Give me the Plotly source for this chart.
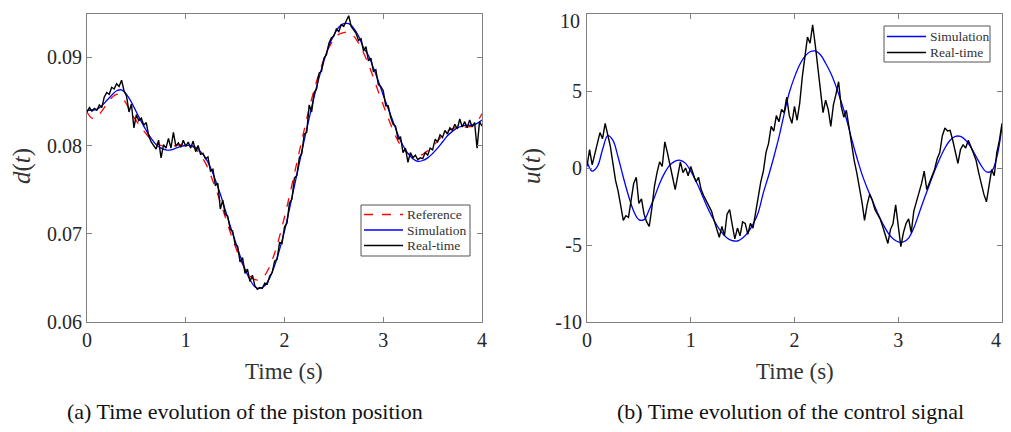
import numpy as np
import plotly.graph_objects as go

# ---- piston position d(t), sampled every 0.05 s (smooth curves) ----
d_reference = [
    0.0838, 0.0831, 0.0832, 0.0839, 0.0847, 0.0854, 0.0858, 0.0855, 0.0847, 0.0836,
    0.0828, 0.0820, 0.0813, 0.0807, 0.0803, 0.0800, 0.0799, 0.0799, 0.0800, 0.0801,
    0.0801, 0.0800, 0.0796, 0.0789, 0.0780, 0.0767, 0.0752, 0.0736, 0.0719, 0.0702,
    0.0686, 0.0672, 0.0660, 0.0652, 0.0648, 0.0648, 0.0653, 0.0663, 0.0678, 0.0697,
    0.0719, 0.0743, 0.0768, 0.0793, 0.0818, 0.0842, 0.0863, 0.0882, 0.0898, 0.0911,
    0.0920, 0.0926, 0.0928, 0.0928, 0.0924, 0.0916, 0.0905, 0.0892, 0.0877, 0.0861,
    0.0846, 0.0831, 0.0817, 0.0805, 0.0796, 0.0791, 0.0788, 0.0788, 0.0790, 0.0794,
    0.0799, 0.0805, 0.0811, 0.0816, 0.0819, 0.0821, 0.0821, 0.0821, 0.0822, 0.0827,
    0.0836,
]
d_simulation = [
    0.0840, 0.0840, 0.0841, 0.0845, 0.0851, 0.0857, 0.0862, 0.0863, 0.0858, 0.0849,
    0.0838, 0.0827, 0.0817, 0.0808, 0.0801, 0.0797, 0.0795, 0.0795, 0.0797, 0.0799,
    0.0800, 0.0800, 0.0798, 0.0793, 0.0786, 0.0775, 0.0761, 0.0745, 0.0727, 0.0709,
    0.0692, 0.0675, 0.0660, 0.0648, 0.0640, 0.0638, 0.0641, 0.0650, 0.0664, 0.0682,
    0.0703, 0.0728, 0.0754, 0.0780, 0.0806, 0.0831, 0.0855, 0.0877, 0.0896, 0.0913,
    0.0925, 0.0934, 0.0938, 0.0938, 0.0933, 0.0924, 0.0911, 0.0902, 0.0888, 0.0873,
    0.0857, 0.0842, 0.0827, 0.0812, 0.0800, 0.0791, 0.0785, 0.0782, 0.0783, 0.0786,
    0.0791, 0.0797, 0.0804, 0.0811, 0.0816, 0.0820, 0.0822, 0.0823, 0.0823, 0.0825,
    0.0829,
]
# ---- piston position, real-time measurement every 0.025 s ----
d_realtime = [
    0.0838, 0.0843, 0.0839, 0.0842, 0.0840, 0.0846, 0.0843, 0.0855, 0.0860, 0.0858,
    0.0866, 0.0864, 0.0870, 0.0867, 0.0874, 0.0862, 0.0856, 0.0838, 0.0847, 0.0820,
    0.0835, 0.0828, 0.0831, 0.0823, 0.0826, 0.0811, 0.0804, 0.0800, 0.0796, 0.0806,
    0.0786, 0.0801, 0.0797, 0.0808, 0.0797, 0.0815, 0.0799, 0.0803, 0.0798, 0.0806,
    0.0799, 0.0804, 0.0797, 0.0805, 0.0793, 0.0800, 0.0790, 0.0791, 0.0785, 0.0787,
    0.0771, 0.0773, 0.0755, 0.0757, 0.0728, 0.0738, 0.0722, 0.0720, 0.0705, 0.0703,
    0.0688, 0.0686, 0.0668, 0.0673, 0.0655, 0.0660, 0.0646, 0.0653, 0.0641, 0.0637,
    0.0639, 0.0638, 0.0644, 0.0643, 0.0652, 0.0656, 0.0669, 0.0671, 0.0690, 0.0689,
    0.0708, 0.0712, 0.0735, 0.0739, 0.0763, 0.0766, 0.0786, 0.0791, 0.0813, 0.0815,
    0.0846, 0.0838, 0.0860, 0.0864, 0.0882, 0.0884, 0.0899, 0.0903, 0.0916, 0.0922,
    0.0924, 0.0932, 0.0929, 0.0937, 0.0935, 0.0941, 0.0947, 0.0935, 0.0931, 0.0927,
    0.0919, 0.0921, 0.0907, 0.0912, 0.0896, 0.0899, 0.0884, 0.0886, 0.0869, 0.0867,
    0.0862, 0.0845, 0.0845, 0.0832, 0.0824, 0.0822, 0.0807, 0.0810, 0.0792, 0.0797,
    0.0781, 0.0792, 0.0786, 0.0789, 0.0784, 0.0786, 0.0785, 0.0792, 0.0789, 0.0797,
    0.0795, 0.0807, 0.0804, 0.0812, 0.0809, 0.0817, 0.0813, 0.0820, 0.0817, 0.0824,
    0.0819, 0.0830, 0.0821, 0.0827, 0.0820, 0.0829, 0.0821, 0.0826, 0.0797, 0.0827,
    0.0822,
]

# ---- control signal u(t) ----
u_simulation = [
    0.4, -0.2, 0.1, 1.2, 2.1, 1.8, 0.7, -0.6, -1.8, -2.8,
    -3.35, -3.35, -2.7, -1.9, -1.0, -0.3, 0.2, 0.45, 0.5, 0.3,
    -0.2, -0.85, -1.6, -2.4, -3.1, -3.7, -4.2, -4.55, -4.72, -4.74,
    -4.55, -4.2, -3.65, -2.9, -1.6, -0.5, 0.7, 2.0, 3.5, 4.9,
    5.9, 6.7, 7.25, 7.55, 7.6, 7.35, 6.8, 6.15, 5.3, 4.3,
    3.2, 1.9, 0.7, -0.4, -1.3, -2.1, -2.9, -3.6, -4.2, -4.6,
    -4.8, -4.8, -4.55, -3.9, -2.95, -2.0, -1.1, -0.2, 0.6, 1.3,
    1.8, 2.05, 2.05, 1.8, 1.35, 0.75, 0.15, -0.25, -0.2, 0.7,
    2.7,
]
u_realtime = [
    0.1, 1.2, 0.2, 1.0, 1.6, 2.3, 1.9, 2.9, 2.2, 1.4,
    0.3, -0.8, -1.5, -2.6, -3.4, -3.1, -3.2, -2.1, -1.0, -0.6,
    -2.3, -2.0, -3.0, -3.5, -3.8, -2.6, -1.2, -0.3, 0.4, 0.1,
    1.7, 1.0, 0.3, -0.6, -1.4, -0.5, 0.4, -0.3, 0.0, -0.5,
    0.1, -0.4, -0.9, -0.6, -1.4, -1.8, -2.1, -2.5, -2.8, -3.4,
    -3.9, -4.5, -3.8, -4.4, -3.0, -2.7, -3.7, -4.6, -3.9, -4.4,
    -3.5, -3.6, -4.3, -3.6, -3.9, -3.0, -1.9, -0.9, -0.2, 1.0,
    1.6, 2.7, 2.4, 3.4, 3.0, 3.8, 3.6, 4.6, 3.4, 2.9,
    4.0, 3.1, 4.2, 5.9, 7.4, 8.5, 8.1, 9.3, 8.0, 6.5,
    4.7, 3.6, 4.4, 3.8, 2.7, 4.1, 4.8, 5.6, 4.0, 3.3,
    3.75, 2.6, 1.5, 0.5, -0.3, -1.2, -2.2, -3.4, -2.4, -1.7,
    -2.1, -2.7, -3.0, -3.3, -3.8, -4.4, -4.9, -4.0, -3.6, -2.4,
    -3.6, -5.1, -4.2, -3.6, -3.3, -4.2, -2.8, -2.1, -1.6, -1.0,
    -0.2, -1.4, -1.0, -0.6, -0.1, 0.6, 1.0, 2.1, 2.6, 2.4,
    2.45, 1.8, 1.0, 0.3, 1.2, 1.5, 1.3, 1.8, 1.4, 1.0,
    0.5, -0.3, -1.1, -1.7, -2.2, -1.0, -0.1, -0.5, 1.0, 1.8,
    2.9,
]

t_smooth = np.linspace(0, 4, len(d_simulation))
t_rt = np.linspace(0, 4, len(d_realtime))
tu_smooth = np.linspace(0, 4, len(u_simulation))
tu_rt = np.linspace(0, 4, len(u_realtime))

# the page body has an 8 px margin, so the figure is a bit smaller and
# positions below are given in window pixels, then shifted
OFF = 8
W, H = 1011 - 2 * OFF, 432 - 2 * OFF
SERIF = "Liberation Serif, Times New Roman, serif"
AX = "#808080"


def px(x):
    return (x - OFF) / W


def py(y):
    return 1 - (y - OFF) / H


fig = go.Figure()
fig.add_trace(go.Scatter(x=t_smooth, y=d_reference, mode="lines",
                         line=dict(color="#ff0000", width=1.3, dash="dash", shape="spline"),
                         xaxis="x", yaxis="y"))
fig.add_trace(go.Scatter(x=t_smooth, y=d_simulation, mode="lines",
                         line=dict(color="#0000ff", width=1.3, shape="spline"),
                         xaxis="x", yaxis="y"))
fig.add_trace(go.Scatter(x=t_rt, y=d_realtime, mode="lines",
                         line=dict(color="#000000", width=1.4),
                         xaxis="x", yaxis="y"))
fig.add_trace(go.Scatter(x=tu_smooth, y=u_simulation, mode="lines",
                         line=dict(color="#0000ff", width=1.3, shape="spline"),
                         xaxis="x2", yaxis="y2"))
fig.add_trace(go.Scatter(x=tu_rt, y=u_realtime, mode="lines",
                         line=dict(color="#000000", width=1.4),
                         xaxis="x2", yaxis="y2"))

tick_font = dict(family=SERIF, size=20, color="#262626")
axis_common = dict(showgrid=False, zeroline=False, showline=True, linecolor=AX, linewidth=1,
                   mirror="ticks", ticks="inside", ticklen=5, tickcolor=AX, automargin=False,
                   ticklabeloverflow="allow", tickfont=tick_font)

fig.update_layout(
    width=W, height=H,
    margin=dict(l=0, r=0, t=0, b=0),
    paper_bgcolor="white", plot_bgcolor="white",
    showlegend=False,
    xaxis=dict(domain=[px(87), px(482)], range=[0, 4], tickvals=[0, 1, 2, 3, 4],
               anchor="y", **axis_common),
    yaxis=dict(domain=[py(322), py(14)], range=[0.06, 0.0949],
               tickvals=[0.06, 0.07, 0.08, 0.09], ticktext=["0.06", "0.07", "0.08", "0.09"],
               anchor="x", **axis_common),
    # labels that sit at the page edges are written separately below
    xaxis2=dict(domain=[px(587), px(1002)], range=[0, 4], tickvals=[0, 1, 2, 3, 4],
                ticktext=["0", "1", "2", "3", ""], anchor="y2", **axis_common),
    yaxis2=dict(domain=[py(322), py(14)], range=[-10, 10],
                tickvals=[-10, -5, 0, 5, 10], ticktext=["-10", "-5", "0", "5", ""],
                anchor="x2", **axis_common),
)
fig.add_annotation(text="4", x=px(1003), y=py(340), xref="paper", yref="paper",
                   showarrow=False, font=tick_font, xanchor="right", yanchor="middle")
fig.add_annotation(text="10", x=px(582), y=1, xref="paper", yref="paper",
                   showarrow=False, font=tick_font, xanchor="right", yanchor="top")

# legends drawn by hand so the row spacing matches the original
leg_font = dict(family=SERIF, size=13.5, color="#333333")


def add_legend(box, rows):
    x0, y0, x1, y1 = box
    fig.add_shape(type="rect", xref="paper", yref="paper",
                  x0=px(x0), x1=px(x1), y0=py(y0), y1=py(y1),
                  line=dict(color="#555555", width=1), fillcolor="white", layer="above")
    for label, color, dash, yy in rows:
        fig.add_shape(type="line", xref="paper", yref="paper",
                      x0=px(x0 + 3), x1=px(x0 + 42), y0=py(yy), y1=py(yy),
                      line=dict(color=color, width=1.5, dash=dash), layer="above")
        fig.add_annotation(text=label, x=px(x0 + 44), y=py(yy), xref="paper", yref="paper",
                           showarrow=False, font=leg_font, xanchor="left", yanchor="middle")


add_legend((361, 205, 470, 256), [("Reference", "#ff0000", "dash", 214.5),
                                  ("Simulation", "#0000ff", "solid", 230),
                                  ("Real-time", "#000000", "solid", 245.5)])
add_legend((884, 26, 990, 62), [("Simulation", "#0000ff", "solid", 36.5),
                                ("Real-time", "#000000", "solid", 52.5)])

title_font = dict(family=SERIF, size=23, color="#333333")
cap_font = dict(family=SERIF, size=22, color="#111111")
for xx in (284, 795):
    fig.add_annotation(text="Time (s)", x=px(xx), y=py(371), xref="paper", yref="paper",
                       showarrow=False, font=title_font, xanchor="center", yanchor="middle")
for txt, xx in (("<i>d</i>(<i>t</i>)", 22), ("<i>u</i>(<i>t</i>)", 532)):
    fig.add_annotation(text=txt, x=px(xx), y=py(166), xref="paper", yref="paper",
                       showarrow=False, font=dict(family=SERIF, size=25, color="#333333"),
                       textangle=-90, xanchor="center", yanchor="middle")
fig.add_annotation(text="(a) Time evolution of the piston position", x=px(245), y=py(411),
                   xref="paper", yref="paper", showarrow=False, font=cap_font,
                   xanchor="center", yanchor="middle")
fig.add_annotation(text="(b) Time evolution of the control signal", x=px(790), y=py(411),
                   xref="paper", yref="paper", showarrow=False, font=cap_font,
                   xanchor="center", yanchor="middle")

fig.write_html("out.html")
